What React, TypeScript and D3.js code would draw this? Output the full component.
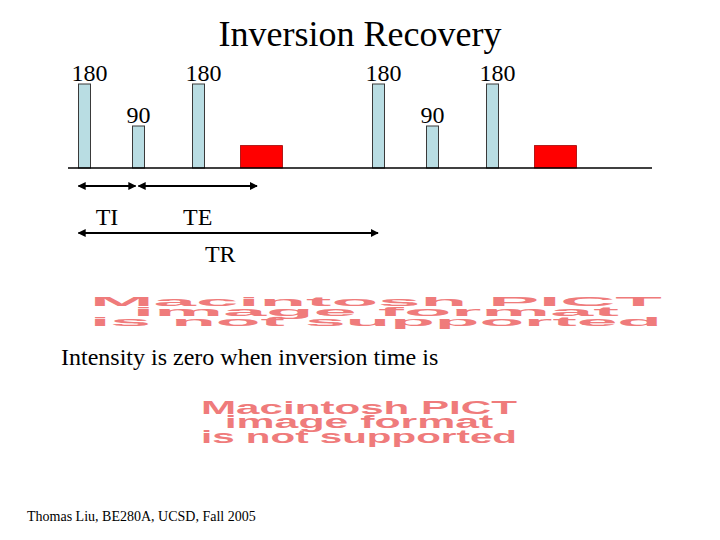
import React from 'react';
import * as d3 from 'd3';

// pulse sequence (time units, one unit ~ one pixel on the slide)
const pulseTimes = [0, 54, 114, 294, 348, 408];
const pulseFlips = [180, 90, 180, 180, 90, 180];
const pulseWidth = 12;

const readoutStarts = [156, 450];
const readoutEnds = [198, 492];
const readoutAmp = 48;

const intervalNames = ['TI', 'TE', 'TR'];
const intervalStarts = [-6, 54, -6];
const intervalEnds = [51, 172.5, 293.5];
const intervalRows = [0, 0, 1];

const pictLines = ['Macintosh PICT', 'image format', 'is not supported'];

const width = 720;
const height = 540;
const serif = '"Liberation Serif", "Times New Roman", serif';

export default function App() {
  const x = d3.scaleLinear().domain([-16.5, 567.5]).range([68, 652]);
  const y = d3.scaleLinear().domain([0, 180]).range([168, 84]);
  const rowY = d3.scaleOrdinal<number, number>().domain([0, 1]).range([186, 233]);

  const pulses = pulseTimes.map((t, i) => ({ t, flip: pulseFlips[i] }));
  const readouts = readoutStarts.map((s, i) => ({ s, e: readoutEnds[i] }));
  const intervals = intervalNames.map((name, i) => ({
    name,
    s: intervalStarts[i],
    e: intervalEnds[i],
    row: intervalRows[i],
  }));

  const pict = (x0: number, x1: number, y0: number, lineH: number, fs: number) =>
    pictLines.map((l, i) => {
      const w = [1, 0.85, 1.0][i];
      const inset = ((x1 - x0) * (1 - w)) / 2;
      return (
        <text
          key={l}
          x={x0 + inset}
          y={y0 + lineH * (i + 1)}
          fontFamily='"Liberation Sans", Arial, sans-serif'
          fontWeight='bold'
          fontSize={fs}
          fill='#ef7b7b'
          textLength={(x1 - x0) * w}
          lengthAdjust='spacingAndGlyphs'
        >
          {l}
        </text>
      );
    });

  return (
    <div style={{ position: 'fixed', left: 0, top: 0 }}>
      <svg width={width} height={height} style={{ display: 'block', background: '#fff' }}>
        <defs>
          <marker id='arr' viewBox='0 0 10 10' refX='9' refY='5' markerWidth='4' markerHeight='4' orient='auto-start-reverse'>
            <path d='M0,0 L10,5 L0,10 z' fill='#000' />
          </marker>
        </defs>

        <text x={360} y={46} textAnchor='middle' fontFamily={serif} fontSize={36}>
          Inversion Recovery
        </text>

        {pulses.map((p, i) => (
          <g key={i}>
            <rect
              x={x(p.t - pulseWidth / 2)}
              y={y(p.flip)}
              width={x(p.t + pulseWidth / 2) - x(p.t - pulseWidth / 2)}
              height={y(0) - y(p.flip)}
              fill='#b9dde3'
              stroke='#3a3a3a'
              strokeWidth={1}
            />
            <text
              x={x(p.t) + (p.flip === 180 ? 5 : 0)}
              y={y(p.flip) - 3}
              textAnchor='middle'
              fontFamily={serif}
              fontSize={24}
            >
              {p.flip}
            </text>
          </g>
        ))}

        {readouts.map((r, i) => (
          <rect
            key={i}
            x={x(r.s)}
            y={y(readoutAmp)}
            width={x(r.e) - x(r.s)}
            height={y(0) - y(readoutAmp)}
            fill='#ff0000'
            stroke='#a00000'
            strokeWidth={0.8}
          />
        ))}

        <line x1={x.range()[0]} x2={x.range()[1]} y1={y(0)} y2={y(0)} stroke='#000' strokeWidth={1.5} />

        {intervals.map((iv) => (
          <g key={iv.name}>
            <line
              x1={x(iv.s)}
              x2={x(iv.e)}
              y1={rowY(iv.row)}
              y2={rowY(iv.row)}
              stroke='#000'
              strokeWidth={2}
              markerStart='url(#arr)'
              markerEnd='url(#arr)'
            />
            <text
              x={x((iv.s + iv.e) / 2) - (iv.row === 1 ? 8 : 0)}
              y={rowY(iv.row) + 39 - (iv.row === 1 ? 10 : 0)}
              textAnchor='middle'
              fontFamily={serif}
              fontSize={24}
            >
              {iv.name}
            </text>
          </g>
        ))}

        {pict(90, 662, 296, 10, 13)}

        <text x={61} y={365} fontFamily={serif} fontSize={24}>
          Intensity is zero when inversion time is
        </text>

        {pict(201, 517, 399, 14.5, 18)}

        <text x={27} y={521} fontFamily={serif} fontSize={14}>
          Thomas Liu, BE280A, UCSD, Fall 2005
        </text>
      </svg>
    </div>
  );
}
